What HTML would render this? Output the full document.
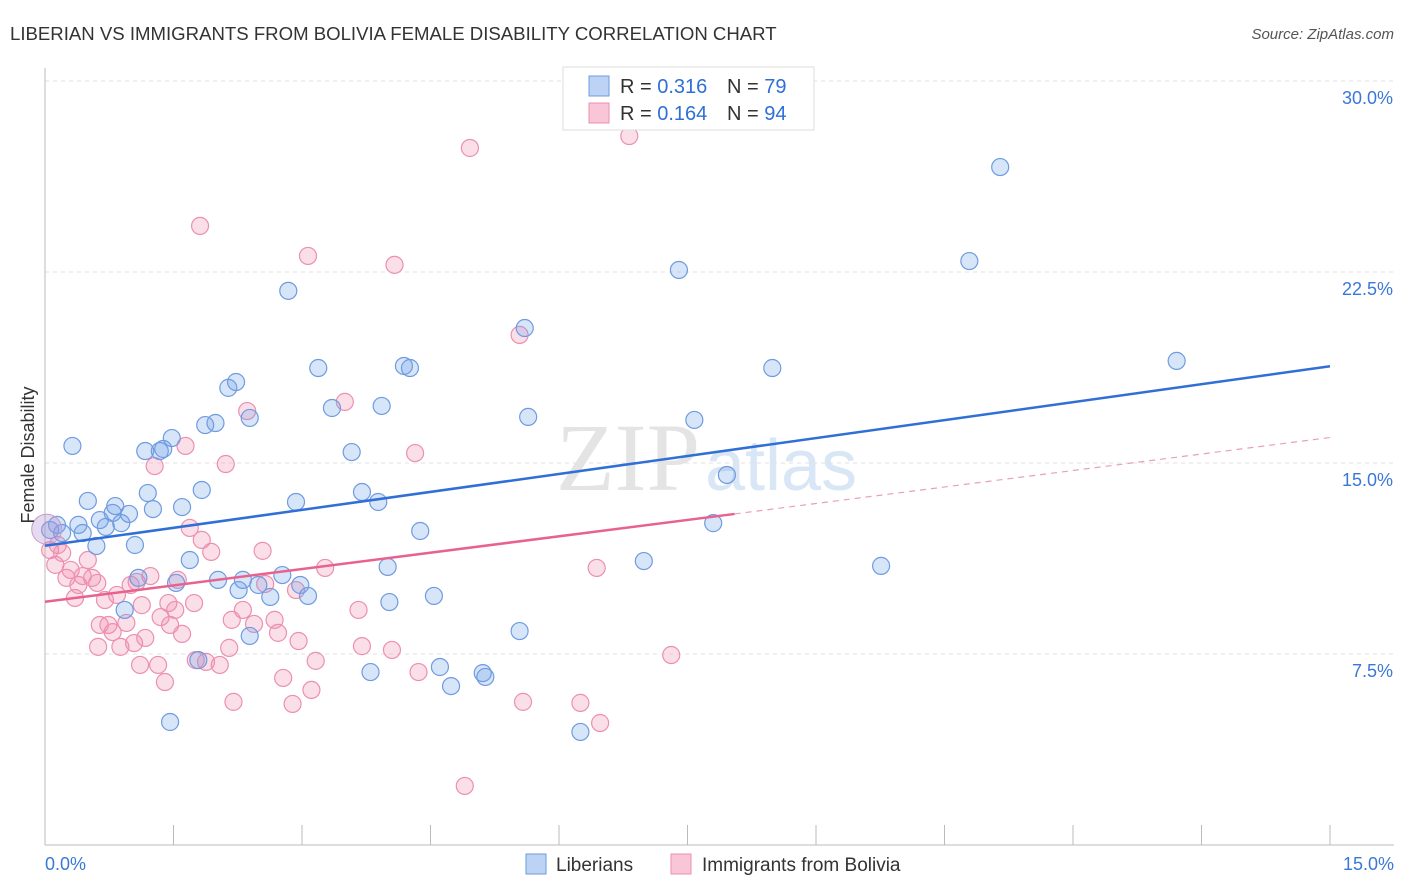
<!DOCTYPE html>
<html><head><meta charset="utf-8"><style>
body{margin:0;background:#fff;font-family:"Liberation Sans",sans-serif}
svg{display:block}
</style></head><body>
<svg id="chart" width="1406" height="892">
<text x="10" y="40" font-size="18.6" fill="#333">LIBERIAN VS IMMIGRANTS FROM BOLIVIA FEMALE DISABILITY CORRELATION CHART</text>
<text x="1394" y="39" font-size="15" fill="#555" font-style="italic" text-anchor="end">Source: ZipAtlas.com</text>
<text x="700" y="490" font-size="96" fill="#e4e4e4" text-anchor="end" font-family="Liberation Serif">ZIP</text>
<text x="705" y="490" font-size="72" fill="#d8e6f5">atlas</text>
<g id="grid"></g>
<g id="axes"></g>
<g id="pts"></g>
<g id="lines"></g>
<text x="34" y="455" font-size="18" fill="#333" transform="rotate(-90 34 455)" text-anchor="middle">Female Disability</text>
<g>
<rect x="563" y="67" width="251" height="63" fill="#fff" stroke="#ddd"/>
<rect x="589" y="76" width="20" height="20" fill="#bcd3f5" stroke="#6f9be0"/>
<rect x="589" y="103" width="20" height="20" fill="#f8c6d6" stroke="#ec8fb0"/>
<text x="620" y="93" font-size="20" fill="#333">R = <tspan fill="#2f6fd6">0.316</tspan></text>
<text x="727" y="93" font-size="20" fill="#333">N = <tspan fill="#2f6fd6">79</tspan></text>
<text x="620" y="120" font-size="20" fill="#333">R = <tspan fill="#2f6fd6">0.164</tspan></text>
<text x="727" y="120" font-size="20" fill="#333">N = <tspan fill="#2f6fd6">94</tspan></text>
</g>
<g>
<rect x="526" y="854" width="20" height="20" fill="#bcd3f5" stroke="#6f9be0"/>
<text x="556" y="871" font-size="19" fill="#333">Liberians</text>
<rect x="671" y="854" width="20" height="20" fill="#f8c6d6" stroke="#ec8fb0"/>
<text x="702" y="871" font-size="19" fill="#333">Immigrants from Bolivia</text>
</g>
</svg>
<script>
const yTicks=[7.5,15,22.5,30];
const yTickLabels=["7.5%","15.0%","22.5%","30.0%"];
const blueX=[0.06,0.14,0.2,0.32,0.39,0.44,0.5,0.6,0.64,0.71,0.79,0.82,0.89,0.98,1.05,1.09,0.93,1.17,1.2,1.26,1.34,1.38,1.48,1.53,1.46,1.6,1.69,1.79,1.83,1.87,1.99,2.02,2.14,2.23,2.26,2.31,2.39,2.39,2.49,2.63,2.77,2.84,2.93,2.98,3.07,3.19,3.35,3.58,3.7,3.8,3.89,3.93,4.0,4.02,4.19,4.26,4.38,4.54,4.61,4.74,5.11,5.14,5.54,5.6,5.64,6.25,6.99,7.4,7.58,7.8,7.96,8.49,9.76,10.79,11.15,13.21];
const blueY=[12.37,12.57,12.25,15.67,12.57,12.25,13.51,11.74,12.76,12.49,13.04,13.31,12.64,13.0,11.78,10.49,9.23,15.47,13.82,13.19,15.47,15.55,15.98,10.29,4.83,13.27,11.19,7.26,13.94,16.49,16.57,10.41,17.95,18.18,10.01,10.41,16.77,8.21,10.21,9.74,10.6,21.76,13.47,10.21,9.78,18.73,17.16,15.43,13.86,6.79,13.47,17.24,10.92,9.54,18.81,18.73,12.33,9.78,6.99,6.24,6.75,6.6,8.4,20.3,16.81,4.44,11.15,22.58,16.69,12.64,14.53,18.73,10.96,22.93,26.62,19.01];
const pinkX=[0.06,0.12,0.15,0.2,0.25,0.3,0.35,0.39,0.44,0.5,0.55,0.61,0.62,0.64,0.7,0.74,0.79,0.84,0.88,0.95,1.0,1.04,1.07,1.11,1.13,1.17,1.23,1.28,1.32,1.35,1.4,1.44,1.46,1.52,1.55,1.6,1.64,1.69,1.74,1.76,1.81,1.83,1.88,1.94,2.04,2.11,2.15,2.18,2.2,2.31,2.36,2.44,2.54,2.57,2.68,2.72,2.78,2.89,2.93,2.96,3.07,3.11,3.16,3.27,3.5,3.66,3.7,4.08,4.05,4.32,4.36,4.9,4.96,5.54,5.58,6.25,6.44,6.48,6.82,7.31];
const pinkY=[11.58,11.0,11.78,11.47,10.49,10.8,9.7,10.21,10.56,11.19,10.49,10.29,7.78,8.64,9.62,8.64,8.36,9.82,7.78,8.72,10.21,7.93,10.33,7.07,9.42,8.13,10.56,14.88,7.07,8.95,6.4,9.5,8.64,9.23,10.41,8.29,15.67,12.45,9.5,7.26,24.31,11.98,7.19,11.51,7.07,14.96,7.74,8.84,5.62,9.23,17.04,8.68,11.55,10.25,8.84,8.33,6.56,5.54,10.01,8.01,23.13,6.09,7.23,10.88,17.4,9.23,7.81,22.78,7.66,15.39,6.79,2.32,27.37,20.03,5.62,5.58,10.88,4.79,27.84,7.46];
const blueLine=[[0,11.75],[15,18.8]];
const pinkSolid=[[0,9.55],[8.05,13.0]];
const pinkDash=[[8.05,13.0],[15,16.0]];
const X=v=>45+v/15*1285, Y=v=>845-v/7.5*191;
const NS="http://www.w3.org/2000/svg";
function mk(t,a,p){const e=document.createElementNS(NS,t);for(const k in a)e.setAttribute(k,a[k]);p.appendChild(e);return e;}
const grid=document.getElementById('grid'),axes=document.getElementById('axes'),pts=document.getElementById('pts'),lines=document.getElementById('lines');
yTicks.forEach((t,i)=>{
 const g=mk('line',{x1:45,x2:1394,y1:Y(t),y2:Y(t),stroke:'#e2e2e2','stroke-dasharray':'4,4'},grid);
 
 
 const l=mk('text',{x:1393,y:Y(t)+23,'font-size':18,fill:'#3a78d8','text-anchor':'end'},axes);l.textContent=yTickLabels[i];
 
 
});
mk('line',{x1:45,x2:45,y1:68,y2:845,stroke:'#bbb'},axes);
mk('line',{x1:45,x2:1394,y1:845,y2:845,stroke:'#bbb'},axes);
for(let i=0;i<=10;i++){const t=mk('line',{x1:X(i*1.5),x2:X(i*1.5),y1:825,y2:845,stroke:'#bbb'},axes);
 
 }
let a=mk('text',{x:45,y:870,'font-size':18,fill:'#3a78d8'},axes);a.textContent='0.0%';


a=mk('text',{x:1394,y:870,'font-size':18,fill:'#3a78d8','text-anchor':'end'},axes);a.textContent='15.0%';


function dots(xs,ys,fill,stroke,name){xs.forEach((x,i)=>{const c=mk('circle',{cx:X(x),cy:Y(ys[i]),r:8.5,fill:fill,stroke:stroke,'stroke-width':1.2},pts);
 
 });}
dots(pinkX,pinkY,'rgba(242,140,172,0.28)','#ec8fb0','bolivia-point');
dots(blueX,blueY,'rgba(110,160,235,0.28)','#6f9be0','liberian-point');
const big=mk('circle',{cx:X(0.02),cy:Y(12.4),r:15,fill:'rgba(180,150,210,0.35)',stroke:'#c49bd0'},pts);


function ln(p,col,w,dash,name){const l=mk('line',{x1:X(p[0][0]),y1:Y(p[0][1]),x2:X(p[1][0]),y2:Y(p[1][1]),stroke:col,'stroke-width':w},lines);if(dash)l.setAttribute('stroke-dasharray',dash);
 
 }
ln(blueLine,'#2f6fd6',2.5,null,'liberian-trend-line');
ln(pinkSolid,'#e8628e',2.5,null,'bolivia-trend-line');
ln(pinkDash,'#e8a0b8',1.2,'6,5','bolivia-trend-extension');
</script>
</body></html>
